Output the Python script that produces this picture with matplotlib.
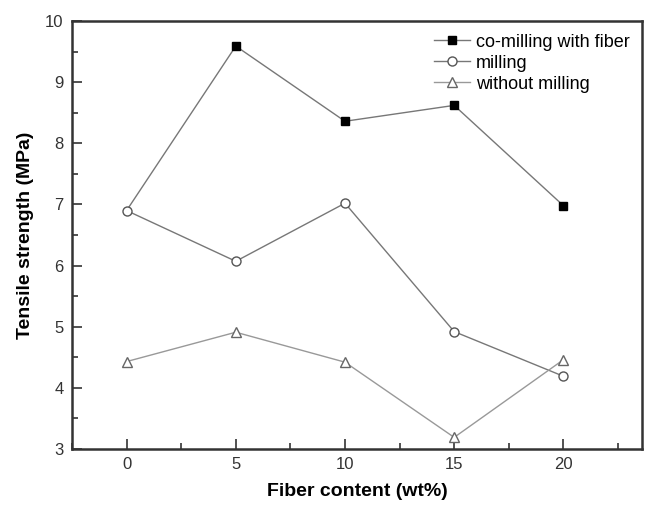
import matplotlib
matplotlib.use("Agg")
import matplotlib.pyplot as plt
from matplotlib.ticker import MultipleLocator

plt.rcParams['font.family'] = ['Liberation Sans', 'DejaVu Sans']

fiber = [0, 5, 10, 15, 20]
co_milling = [6.90, 9.59, 8.36, 8.62, 6.98]
milling = [6.90, 6.07, 7.02, 4.92, 4.19]
without_milling = [4.43, 4.91, 4.42, 3.19, 4.46]

fig = plt.figure(figsize=(6.45, 5.08), dpi=100)
ax = fig.add_axes([72/645, 59/508, 570/645, 428/508])

lc = '#777777'
ax.plot(fiber, co_milling, '-', color=lc, lw=1.0, marker='s', ms=5.5,
        mfc='black', mec='black', markevery=[1, 2, 3, 4],
        label='co-milling with fiber', zorder=2)
ax.plot(fiber, milling, '-', color=lc, lw=1.0, marker='o', ms=6.5,
        mfc='white', mec='#555555', mew=1.0, label='milling', zorder=3)
ax.plot(fiber, without_milling, '-', color='#999999', lw=1.0, marker='^', ms=7,
        mfc='white', mec='#666666', mew=1.0, label='without milling', zorder=3)

ax.set_xlim(-2.5, 23.6)
ax.set_ylim(3, 10)
ax.xaxis.set_major_locator(MultipleLocator(5))
ax.xaxis.set_minor_locator(MultipleLocator(2.5))
ax.yaxis.set_major_locator(MultipleLocator(1))
ax.yaxis.set_minor_locator(MultipleLocator(0.5))
ax.tick_params(which='both', direction='in', top=False, right=False,
               labelsize=12, colors='#333333', width=1.2)
ax.tick_params(which='major', length=7, pad=6)
ax.tick_params(which='minor', length=4)
for s in ax.spines.values():
    s.set_linewidth(1.8)
    s.set_color('#333333')

ax.set_xlabel('Fiber content (wt%)', fontsize=14, fontweight='bold', labelpad=8)
ax.set_ylabel('Tensile strength (MPa)', fontsize=14, fontweight='bold', labelpad=8)

leg = ax.legend(loc='upper right', frameon=False, fontsize=13, handlelength=2.0,
                handletextpad=0.3, labelspacing=0.22, borderaxespad=0.3,
                numpoints=1)
for h in leg.legend_handles:
    h.set_markevery([1])

fig.savefig('out.png', dpi=100)
